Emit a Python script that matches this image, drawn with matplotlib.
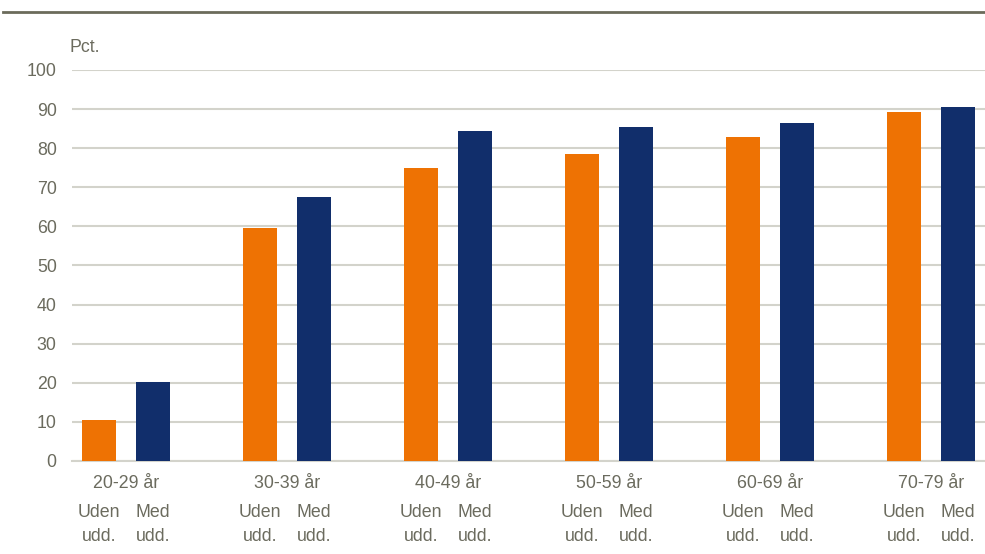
import matplotlib.pyplot as plt
import numpy as np
from matplotlib.font_manager import fontManager

# Data
groups = ["20-29 år", "30-39 år", "40-49 år", "50-59 år", "60-69 år", "70-79 år"]
uden_udd = [10.5, 59.6, 74.9, 78.6, 82.8, 89.2]
med_udd = [20.2, 67.5, 84.4, 85.4, 86.4, 90.5]
bar_labels = ["Uden\nudd.", "Med\nudd."]
yticks = list(range(0, 101, 10))

names = {f.name for f in fontManager.ttflist}
family = "Liberation Sans Narrow" if "Liberation Sans Narrow" in names else "Liberation Sans"
plt.rcParams["font.family"] = [family, "DejaVu Sans"]

text_col = "#6b6b5e"
orange = "#EE7203"
navy = "#112E6B"
grid_col = "#d3d3cb"
fs = 12.8

fig = plt.figure(figsize=(9.85, 5.54), dpi=100)
ax = fig.add_axes([0.0731, 0.1679, 0.9269, 0.7058])

x = np.arange(len(groups))
offset = 0.335
width = 0.211
ax.bar(x, uden_udd, width, color=orange, zorder=3)
ax.bar(x + offset, med_udd, width, color=navy, zorder=3)

ax.set_ylim(0, 100)
ax.set_xlim(-0.168, 5.503)
ax.set_yticks(yticks)
ax.set_yticklabels([str(t) for t in yticks], fontsize=fs, color=text_col)
ax.tick_params(axis="y", length=0, pad=11)
ax.yaxis.grid(True, color=grid_col, linewidth=1.5, zorder=0)
for s in ["top", "right", "left"]:
    ax.spines[s].set_visible(False)
ax.spines["bottom"].set_color(grid_col)
ax.spines["bottom"].set_linewidth(1.5)

# Bar labels under each bar
pos = np.concatenate([x, x + offset])
labs = [bar_labels[0]] * len(x) + [bar_labels[1]] * len(x)
ax.set_xticks(pos)
ax.set_xticklabels(labs, fontsize=fs, color=text_col, linespacing=1.5)
ax.tick_params(axis="x", length=0, pad=31)

# Group labels
trans = ax.get_xaxis_transform()
for i, g in enumerate(groups):
    ax.text(i + offset / 2, -0.037, g, transform=trans, ha="center", va="top",
            fontsize=fs, color=text_col)

ax.text(-0.003, 1.035, "Pct.", transform=ax.transAxes, ha="left", va="bottom",
        fontsize=fs, color=text_col)

# Top rule
fig.add_artist(plt.Line2D([0.003, 1.0], [0.978, 0.978], color="#6b6b5b", linewidth=2))

fig.savefig("out.png", dpi=100)
